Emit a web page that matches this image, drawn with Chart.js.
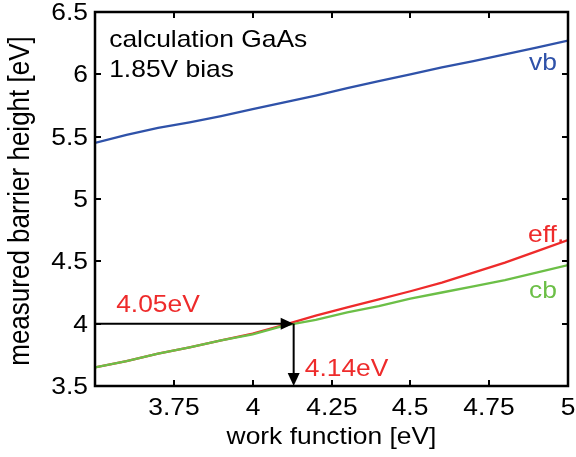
<!DOCTYPE html>
<html>
<head>
<meta charset="utf-8">
<script src="https://cdn.jsdelivr.net/npm/chart.js@4/dist/chart.umd.min.js"></script>
<style>
html,body{margin:0;padding:0;background:#fff;}
#wrap{width:576px;height:457px;position:relative;}
</style>
</head>
<body>
<div id="wrap"><canvas id="c" width="576" height="457"></canvas></div>
<script>
const workFunction = [3.5,3.6,3.7,3.8,3.9,4.0,4.1,4.2,4.3,4.4,4.5,4.6,4.7,4.8,4.9,5.0];
const vbValues  = [5.45,5.515,5.57,5.615,5.665,5.72,5.775,5.83,5.89,5.945,6.0,6.055,6.105,6.16,6.215,6.27];
const effValues = [3.65,3.70,3.76,3.81,3.865,3.92,3.99,4.065,4.13,4.195,4.26,4.33,4.41,4.49,4.58,4.67];
const cbValues  = [3.65,3.70,3.76,3.81,3.865,3.915,3.985,4.03,4.09,4.14,4.20,4.25,4.30,4.35,4.41,4.47];
const xTicks = [3.5,3.75,4,4.25,4.5,4.75,5];
const yTicks = [3.5,4,4.5,5,5.5,6,6.5];
const xTickLabels = ['', '3.75', '4', '4.25', '4.5', '4.75', '5'];
const yTickLabels = ['3.5', '4', '4.5', '5', '5.5', '6', '6.5'];
const xTitle = 'work function [eV]';
const yTitle = 'measured barrier height [eV]';
const crossing = {x: 4.13, y: 4.0};
const labels = [
  {text:'calculation GaAs', x:3.545, y:6.219, color:'#000', align:'left'},
  {text:'1.85V bias', x:3.545, y:5.978, color:'#000', align:'left'},
  {text:'vb', x:4.965, y:6.034, color:'#2f52a9', align:'right'},
  {text:'eff.', x:4.988, y:4.657, color:'#ee2b2b', align:'right'},
  {text:'cb', x:4.965, y:4.203, color:'#6cbf47', align:'right'},
  {text:'4.05eV', x:3.567, y:4.096, color:'#ee2b2b', align:'left'},
  {text:'4.14eV', x:4.165, y:3.58, color:'#ee2b2b', align:'left'}
];
const FONT = '"Liberation Sans", Arial, Helvetica, sans-serif';
const TXT = {size:24, sx:1.1};
const YT = {size:26, sx:1.1};

function pts(ys){ return workFunction.map((x,i)=>({x:x,y:ys[i]})); }

function drawText(ctx, text, x, y, align, color, size, sx, rot){
  ctx.save();
  ctx.translate(x, y);
  if (rot) ctx.rotate(rot);
  if (rot) ctx.scale(1, sx); else ctx.scale(sx, 1);
  ctx.font = size + 'px ' + FONT;
  ctx.fillStyle = color;
  ctx.textAlign = align;
  ctx.textBaseline = 'alphabetic';
  ctx.fillText(text, 0, 0);
  ctx.restore();
}

const framePlugin = {
  id:'frame',
  afterDatasetsDraw(chart){
    const ctx = chart.ctx, a = chart.chartArea;
    const xs = chart.scales.x, ys = chart.scales.y;
    ctx.save();
    ctx.strokeStyle = '#000'; ctx.lineWidth = 2;
    const tl = 6;
    xTicks.forEach((v,i)=>{
      const px = Math.round(xs.getPixelForValue(v));
      ctx.beginPath(); ctx.moveTo(px,a.bottom); ctx.lineTo(px,a.bottom-tl); ctx.stroke();
      ctx.beginPath(); ctx.moveTo(px,a.top); ctx.lineTo(px,a.top+tl); ctx.stroke();
      drawText(ctx, xTickLabels[i], px, a.bottom + 29, 'center', '#000', TXT.size, TXT.sx, 0);
    });
    yTicks.forEach((v,i)=>{
      const py = Math.round(ys.getPixelForValue(v));
      ctx.beginPath(); ctx.moveTo(a.left,py); ctx.lineTo(a.left+tl,py); ctx.stroke();
      ctx.beginPath(); ctx.moveTo(a.right,py); ctx.lineTo(a.right-tl,py); ctx.stroke();
      drawText(ctx, yTickLabels[i], a.left - 7, py + 8, 'right', '#000', TXT.size, TXT.sx, 0);
    });
    drawText(ctx, xTitle, (a.left + a.right)/2, a.bottom + 58, 'center', '#000', TXT.size, TXT.sx, 0);
    drawText(ctx, yTitle, 29, (a.top + a.bottom)/2 + 2, 'center', '#000', YT.size, YT.sx, -Math.PI/2);
    const cx = xs.getPixelForValue(crossing.x), cy = ys.getPixelForValue(crossing.y);
    const x0 = xs.getPixelForValue(xs.min), y0 = ys.getPixelForValue(ys.min);
    ctx.lineWidth = 2;
    ctx.beginPath(); ctx.moveTo(x0,cy); ctx.lineTo(cx-10,cy); ctx.stroke();
    ctx.fillStyle = '#000';
    ctx.beginPath(); ctx.moveTo(cx,cy); ctx.lineTo(cx-13,cy-6); ctx.lineTo(cx-13,cy+6); ctx.closePath(); ctx.fill();
    ctx.beginPath(); ctx.moveTo(cx,cy); ctx.lineTo(cx,y0-10); ctx.stroke();
    ctx.beginPath(); ctx.moveTo(cx,y0); ctx.lineTo(cx-6,y0-13); ctx.lineTo(cx+6,y0-13); ctx.closePath(); ctx.fill();
    ctx.lineWidth = 2.5;
    ctx.strokeRect(a.left,a.top,a.right-a.left,a.bottom-a.top);
    labels.forEach(l=>{
      drawText(ctx, l.text, xs.getPixelForValue(l.x), ys.getPixelForValue(l.y), l.align, l.color, TXT.size, TXT.sx, 0);
    });
    ctx.restore();
  }
};

new Chart(document.getElementById('c'), {
  type:'scatter',
  data:{
    datasets:[
      {label:'vb', data:pts(vbValues), borderColor:'#2f52a9', borderWidth:2.3, showLine:true, pointRadius:0, tension:0},
      {label:'cb', data:pts(cbValues), borderColor:'#6cbf47', borderWidth:2.3, showLine:true, pointRadius:0, tension:0},
      {label:'eff.', data:pts(effValues), borderColor:'#ee2b2b', borderWidth:2.3, showLine:true, pointRadius:0, tension:0}
    ]
  },
  options:{
    responsive:false,
    animation:false,
    layout:{padding:{left:0,right:8,top:12,bottom:0}},
    plugins:{legend:{display:false}, tooltip:{enabled:false}},
    scales:{
      x:{
        type:'linear', min:3.5, max:5,
        afterBuildTicks(s){ s.ticks = xTicks.map(v=>({value:v})); },
        afterFit(s){ s.height = 71; },
        grid:{display:false, drawTicks:false},
        border:{display:false},
        ticks:{display:false},
        title:{display:false}
      },
      y:{
        type:'linear', min:3.5, max:6.5,
        afterBuildTicks(s){ s.ticks = yTicks.map(v=>({value:v})); },
        afterFit(s){ s.width = 95; },
        grid:{display:false, drawTicks:false},
        border:{display:false},
        ticks:{display:false},
        title:{display:false}
      }
    }
  },
  plugins:[framePlugin]
});
</script>
</body>
</html>
